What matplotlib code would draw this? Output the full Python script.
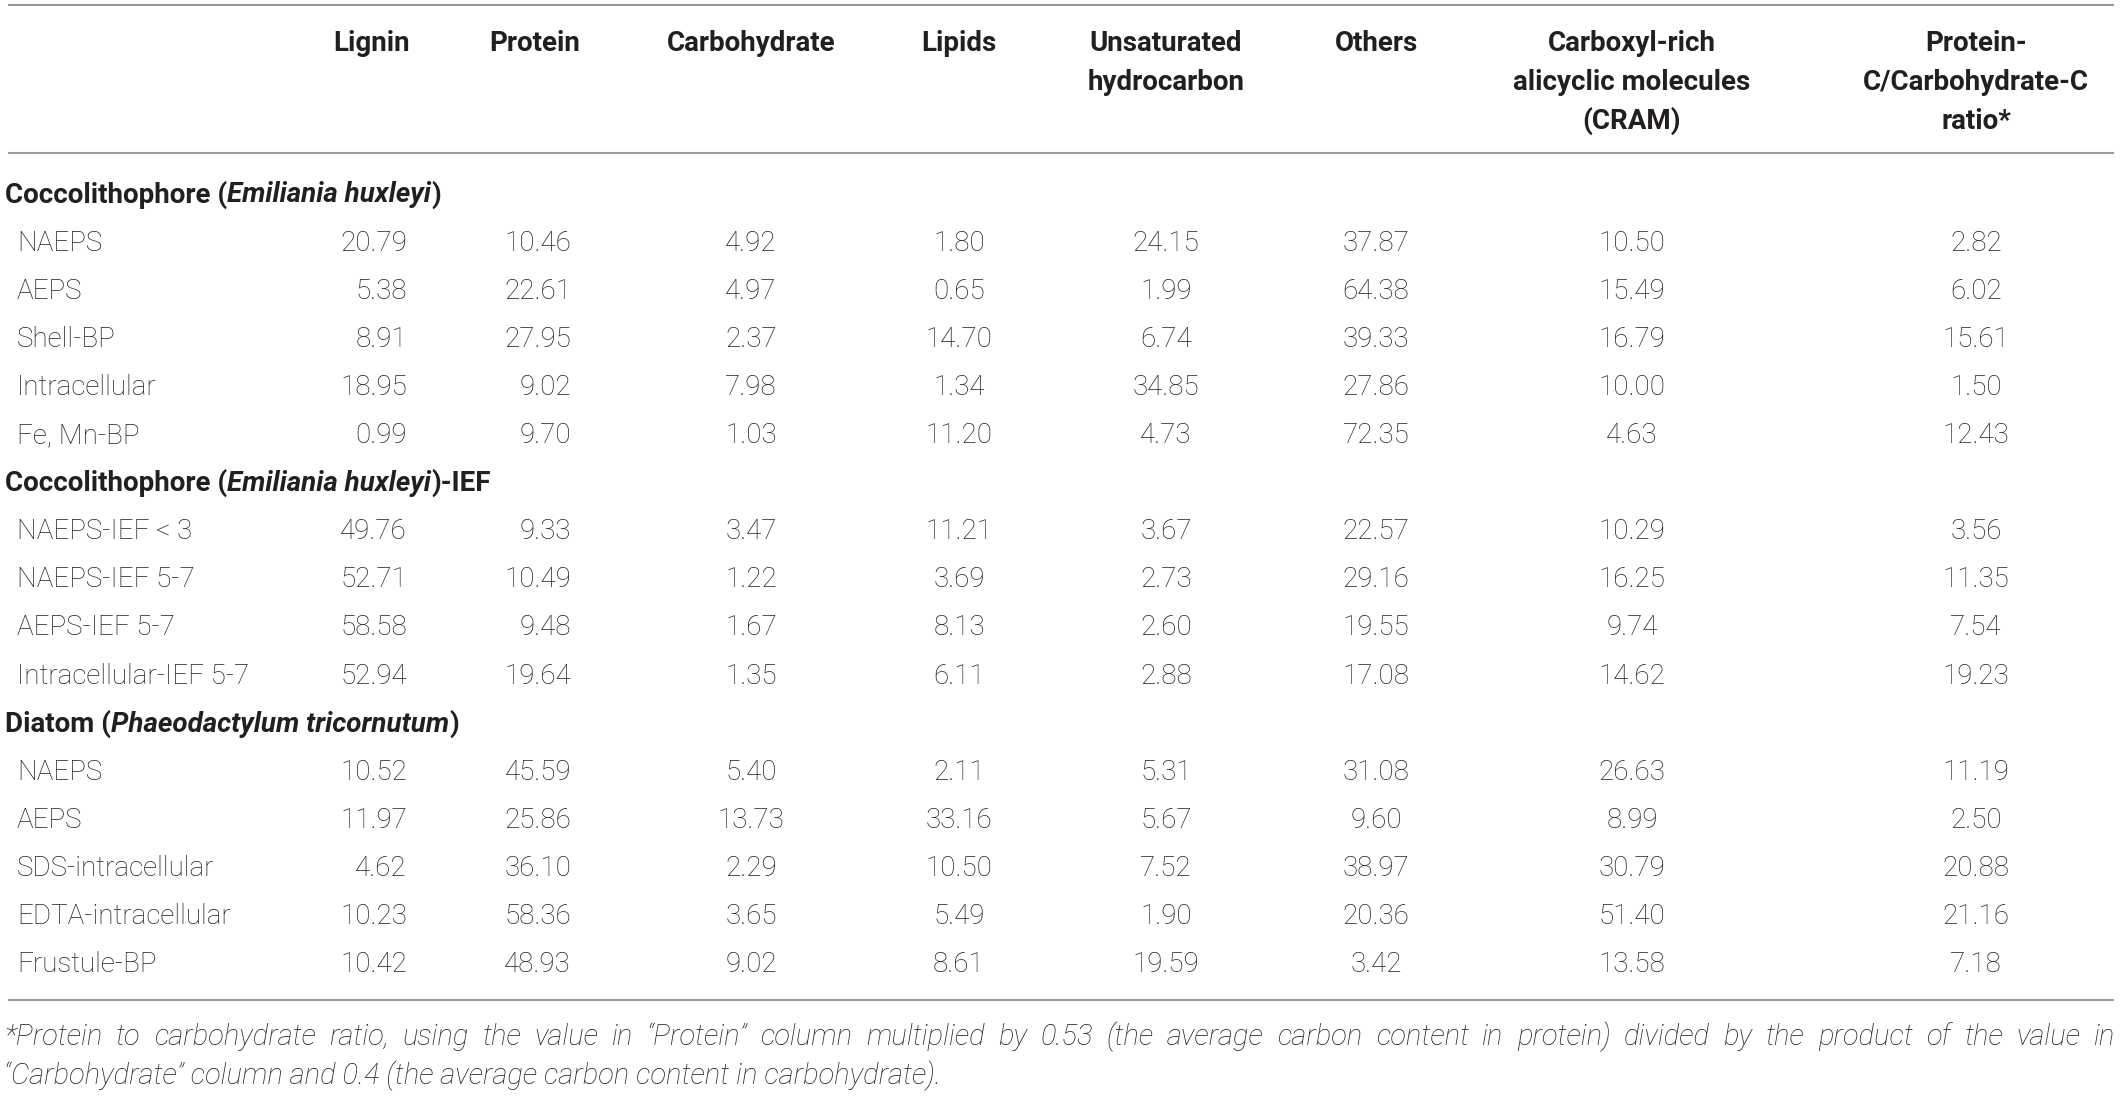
import matplotlib
matplotlib.use("Agg")
import matplotlib.pyplot as plt

# ---- table content ----
col_headers = ["Lignin", "Protein", "Carbohydrate", "Lipids", "Unsaturated\nhydrocarbon",
               "Others", "Carboxyl-rich\nalicyclic molecules\n(CRAM)",
               "Protein-\nC/Carbohydrate-C\nratio*"]

group_titles = [
    [("Coccolithophore (", "normal"), ("Emiliania huxleyi", "italic"), (")", "normal")],
    [("Coccolithophore (", "normal"), ("Emiliania huxleyi", "italic"), (")-IEF", "normal")],
    [("Diatom (", "normal"), ("Phaeodactylum tricornutum", "italic"), (")", "normal")],
]
group_rows = [
    ["NAEPS", "AEPS", "Shell-BP", "Intracellular", "Fe, Mn-BP"],
    ["NAEPS-IEF < 3", "NAEPS-IEF 5-7", "AEPS-IEF 5-7", "Intracellular-IEF 5-7"],
    ["NAEPS", "AEPS", "SDS-intracellular", "EDTA-intracellular", "Frustule-BP"],
]

lignin = [20.79, 5.38, 8.91, 18.95, 0.99, 49.76, 52.71, 58.58, 52.94,
          10.52, 11.97, 4.62, 10.23, 10.42]
protein = [10.46, 22.61, 27.95, 9.02, 9.70, 9.33, 10.49, 9.48, 19.64,
           45.59, 25.86, 36.10, 58.36, 48.93]
carbohydrate = [4.92, 4.97, 2.37, 7.98, 1.03, 3.47, 1.22, 1.67, 1.35,
                5.40, 13.73, 2.29, 3.65, 9.02]
lipids = [1.80, 0.65, 14.70, 1.34, 11.20, 11.21, 3.69, 8.13, 6.11,
          2.11, 33.16, 10.50, 5.49, 8.61]
unsaturated = [24.15, 1.99, 6.74, 34.85, 4.73, 3.67, 2.73, 2.60, 2.88,
               5.31, 5.67, 7.52, 1.90, 19.59]
others = [37.87, 64.38, 39.33, 27.86, 72.35, 22.57, 29.16, 19.55, 17.08,
          31.08, 9.60, 38.97, 20.36, 3.42]
cram = [10.50, 15.49, 16.79, 10.00, 4.63, 10.29, 16.25, 9.74, 14.62,
        26.63, 8.99, 30.79, 51.40, 13.58]
ratio = [2.82, 6.02, 15.61, 1.50, 12.43, 3.56, 11.35, 7.54, 19.23,
         11.19, 2.50, 20.88, 21.16, 7.18]

footnote = ["*Protein to carbohydrate ratio, using the value in \u201cProtein\u201d column multiplied by 0.53 "
            "(the average carbon content in protein) divided by the product of the value in",
            "\u201cCarbohydrate\u201d column and 0.4 (the average carbon content in carbohydrate)."]

columns = [lignin, protein, carbohydrate, lipids, unsaturated, others, cram, ratio]

# ---- layout (pixel coordinates) ----
W, H = 2120, 1098
head_x = [372, 535, 751, 959, 1166, 1376, 1632, 1976]
val_x = [407, 571, 751, 959, 1166, 1376, 1632, 1976]
val_ha = ["right", "right", "center", "center", "center", "center", "center", "center"]
head_base = [51, 90, 129]
row0 = 202.5
pitch = 48.1
ink = "#231f20"
rule = "#9a9a9a"
fs = 20

plt.rcParams["font.family"] = ["Roboto", "DejaVu Sans"]

fig = plt.figure(figsize=(W / 100, H / 100), dpi=100)
ax = fig.add_axes([0, 0, 1, 1])
ax.set_xlim(0, W)
ax.set_ylim(H, 0)
ax.axis("off")
renderer = fig.canvas.get_renderer()

for y in (5, 153, 1000):
    ax.plot([8, 2114], [y, y], color=rule, lw=1.5, solid_capstyle="butt")

for hx, lab in zip(head_x, col_headers):
    for k, line in enumerate(lab.split("\n")):
        ax.text(hx, head_base[k], line, ha="center", va="baseline",
                fontsize=fs, fontweight="bold", color=ink)


def text_width(t):
    bb = t.get_window_extent(renderer)
    return bb.width


k = 0
i = 0
for title, rows in zip(group_titles, group_rows):
    y = row0 + k * pitch
    x = 5
    for piece, style in title:
        t = ax.text(x, y, piece, ha="left", va="baseline", fontsize=fs,
                    fontweight="bold", fontstyle=style, color=ink)
        x += text_width(t)
    k += 1
    for lab in rows:
        y = row0 + k * pitch
        ax.text(17, y, lab, ha="left", va="baseline", fontsize=fs,
                fontweight="light", color=ink)
        for cx, ha, col in zip(val_x, val_ha, columns):
            ax.text(cx, y, f"{col[i]:.2f}", ha=ha, va="baseline", fontsize=fs,
                    fontweight="light", color=ink)
        k += 1
        i += 1

# footnote: first line justified across the full width
fn_fs = 21
fn_base = [1045, 1084]
words = footnote[0].split(" ")
ts = [ax.text(0, fn_base[0], w, ha="left", va="baseline", fontsize=fn_fs,
              fontweight="light", fontstyle="italic", color=ink) for w in words]
widths = [text_width(t) for t in ts]
x0, x1 = 4, 2115
gap = (x1 - x0 - sum(widths)) / (len(words) - 1)
x = x0
for t, w in zip(ts, widths):
    t.set_x(x)
    x += w + gap
ax.text(x0, fn_base[1], footnote[1], ha="left", va="baseline", fontsize=fn_fs,
        fontweight="light", fontstyle="italic", color=ink)

fig.savefig("out.png", dpi=100)
